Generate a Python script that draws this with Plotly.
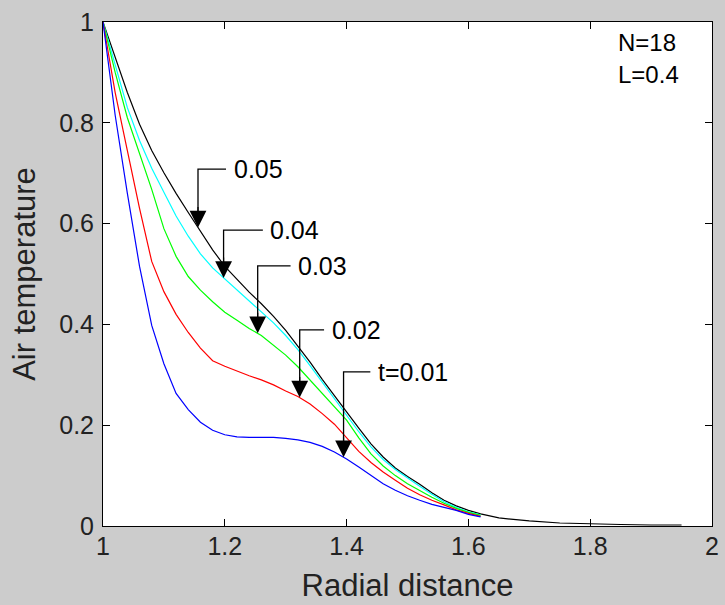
import numpy as np
import plotly.graph_objects as go

# radial distance grid (shared by the coloured curves)
r = [1.00, 1.02, 1.04, 1.06, 1.08, 1.10, 1.12, 1.14, 1.16, 1.18, 1.20, 1.22, 1.24, 1.26, 1.28,
     1.30, 1.32, 1.34, 1.36, 1.38, 1.40, 1.42, 1.44, 1.46, 1.48, 1.50, 1.52, 1.54, 1.56, 1.58,
     1.60, 1.62]
# black curve runs further out
r_long = r + [1.65, 1.70, 1.75, 1.80, 1.85, 1.90, 1.95]

t001 = [1.0, 0.815, 0.66, 0.515, 0.398, 0.322, 0.263, 0.231, 0.206, 0.19, 0.181, 0.177, 0.176,
        0.176, 0.176, 0.174, 0.171, 0.166, 0.158, 0.147, 0.133, 0.117, 0.1, 0.084, 0.071, 0.06,
        0.051, 0.043, 0.037, 0.031, 0.023, 0.018]
t002 = [1.0, 0.86, 0.745, 0.63, 0.525, 0.465, 0.42, 0.384, 0.353, 0.328, 0.317, 0.307, 0.298,
        0.29, 0.28, 0.268, 0.257, 0.242, 0.223, 0.202, 0.175, 0.148, 0.126, 0.107, 0.091, 0.075,
        0.062, 0.051, 0.042, 0.032, 0.025, 0.019]
t003 = [1.0, 0.9, 0.81, 0.737, 0.668, 0.59, 0.535, 0.495, 0.468, 0.445, 0.424, 0.408, 0.392,
        0.378, 0.358, 0.339, 0.316, 0.29, 0.263, 0.238, 0.21, 0.175, 0.143, 0.119, 0.1, 0.084,
        0.07, 0.057, 0.045, 0.035, 0.027, 0.021]
t004 = [1.0, 0.915, 0.83, 0.765, 0.71, 0.662, 0.615, 0.575, 0.54, 0.512, 0.49, 0.468, 0.445,
        0.425, 0.403, 0.378, 0.35, 0.318, 0.285, 0.252, 0.22, 0.187, 0.157, 0.132, 0.112, 0.095,
        0.079, 0.063, 0.048, 0.037, 0.028, 0.022]
t005 = [1.0, 0.93, 0.86, 0.797, 0.745, 0.701, 0.66, 0.622, 0.585, 0.548, 0.515, 0.489, 0.464,
        0.441, 0.416, 0.388, 0.357, 0.325, 0.291, 0.258, 0.225, 0.194, 0.163, 0.137, 0.115, 0.098,
        0.083, 0.066, 0.051, 0.04, 0.031, 0.024, 0.016, 0.01, 0.006, 0.004, 0.003, 0.002, 0.002]

x_ticks = [1, 1.2, 1.4, 1.6, 1.8, 2]
y_ticks = [0, 0.2, 0.4, 0.6, 0.8, 1]

series = [("0.05", r_long, t005, "#000000"),
          ("0.04", r, t004, "#00ffff"),
          ("0.03", r, t003, "#00ff00"),
          ("0.02", r, t002, "#ff0000"),
          ("t=0.01", r, t001, "#0000ff")]

# callout labels: where the arrow lands, height of the elbow, where the text starts
label_tip_x = [1.156, 1.198, 1.254, 1.323, 1.395]
label_elbow_y = [0.708, 0.587, 0.516, 0.389, 0.306]
label_text_x = [1.211, 1.2715, 1.317, 1.372, 1.448]

FONT = "Arial, Liberation Sans, sans-serif"

fig = go.Figure()
for name, xs, ys, col in series:
    fig.add_trace(go.Scatter(x=xs, y=ys, mode="lines", name=name,
                             line=dict(color=col, width=1.2)))

for (name, xs, ys, col), tx, ey, lx in zip(series, label_tip_x, label_elbow_y, label_text_x):
    ty = float(np.interp(tx, xs, ys))
    fig.add_shape(type="path",
                  path=f"M {lx - 0.009},{ey} L {tx},{ey} L {tx},{ty + 0.02}",
                  line=dict(color="black", width=1.3))
    fig.add_annotation(x=tx, y=ty, ax=0, ay=-22, text="", showarrow=True,
                       arrowhead=2, arrowsize=2.8, arrowwidth=1.2, arrowcolor="black",
                       standoff=0)
    fig.add_annotation(x=lx, y=ey, text=name, showarrow=False, xanchor="left",
                       yanchor="middle", font=dict(size=25, color="black", family=FONT))

fig.add_annotation(x=1.843, y=0.96, text="N=18", showarrow=False, xanchor="left",
                   yanchor="middle", font=dict(size=24, color="black", family=FONT))
fig.add_annotation(x=1.843, y=0.895, text="L=0.4", showarrow=False, xanchor="left",
                   yanchor="middle", font=dict(size=24, color="black", family=FONT))

axis_common = dict(showgrid=False, zeroline=False, showline=True, linecolor="black",
                   linewidth=1, mirror="ticks", ticks="inside", ticklen=7, tickwidth=1,
                   tickcolor="black", ticklabeloverflow="allow",
                   tickfont=dict(size=25, color="#222", family=FONT))

fig.update_xaxes(range=[1, 2], tickvals=x_ticks, ticktext=[f"{v:g}" for v in x_ticks],
                 ticklabelstandoff=-2,
                 title=dict(text="Radial distance", standoff=15,
                            font=dict(size=31, color="#222", family=FONT)),
                 **axis_common)
fig.update_yaxes(range=[0, 1], tickvals=y_ticks, ticktext=[f"{v:g}" for v in y_ticks],
                 ticklabelstandoff=3,
                 title=dict(text="Air temperature", standoff=14,
                            font=dict(size=31, color="#222", family=FONT)),
                 **axis_common)

fig.update_layout(width=725, height=605, showlegend=False,
                  paper_bgcolor="#cccccc", plot_bgcolor="white",
                  margin=dict(l=103, r=6, t=22, b=79))

fig.write_html("out.html", config={"displayModeBar": False},
               post_script="document.body.style.margin='0';"
                           "document.body.style.background='#cccccc';")
